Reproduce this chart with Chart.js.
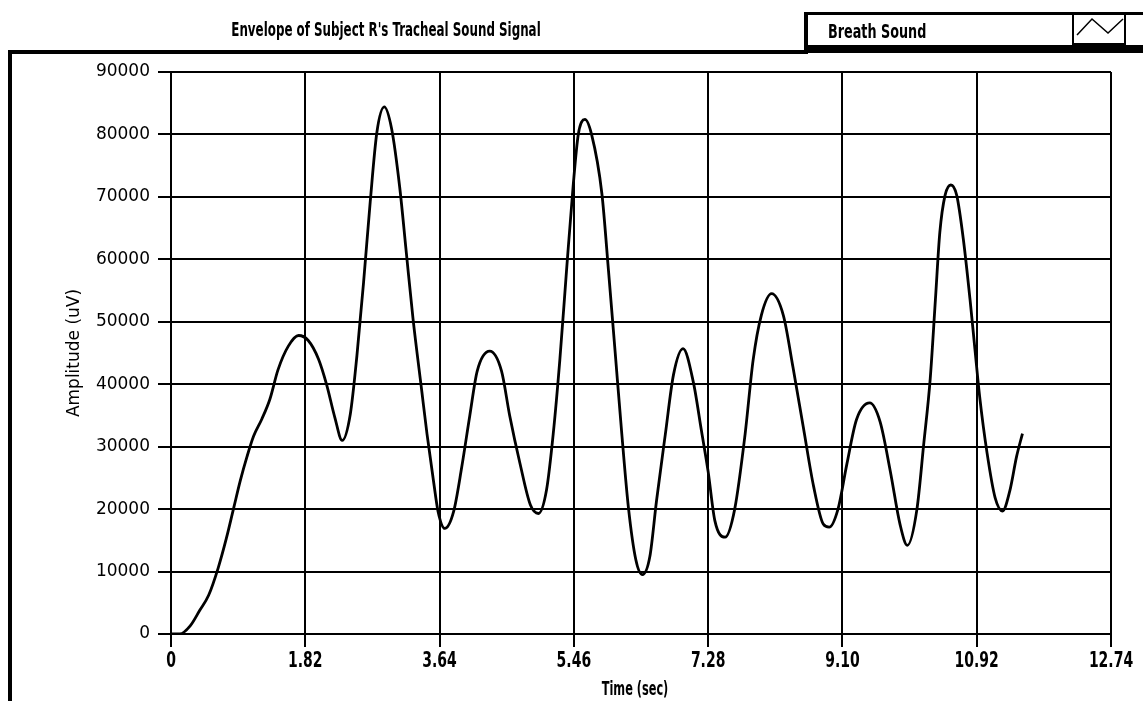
<!DOCTYPE html>
<html>
<head>
<meta charset="utf-8">
<title>Envelope of Subject R's Tracheal Sound Signal</title>
<script src="https://cdn.jsdelivr.net/npm/chart.js@4.4.1/dist/chart.umd.min.js"></script>
<style>
  html, body { margin: 0; padding: 0; background: #fff; }
  #wrap { width: 1143px; height: 701px; }
</style>
</head>
<body>
<div id="wrap"><canvas id="envChart" width="1143" height="701"></canvas></div>
<script>
// envelope of the tracheal sound, sampled along the trace
const timeSec = [
  0, 0.12, 0.26, 0.39, 0.51, 0.64, 0.75, 0.85, 0.94, 1.03, 1.12, 1.23, 1.34, 1.45, 1.59, 1.73,
  1.86, 2.00, 2.11, 2.22, 2.32, 2.43, 2.52, 2.61, 2.70, 2.79, 2.89, 2.99, 3.10, 3.19, 3.28,
  3.40, 3.47, 3.56, 3.62, 3.71, 3.83, 3.94, 4.05, 4.15, 4.32, 4.48, 4.59, 4.73, 4.87, 4.98,
  5.09, 5.18, 5.27, 5.36, 5.45, 5.52, 5.61, 5.70, 5.84, 5.93, 6.02, 6.11, 6.20, 6.30, 6.39,
  6.49, 6.58, 6.70, 6.81, 6.94, 7.08, 7.19, 7.28, 7.37, 7.51, 7.64, 7.78, 7.89, 8.00, 8.14,
  8.30, 8.43, 8.57, 8.71, 8.84, 8.92, 9.04, 9.16, 9.29, 9.47, 9.61, 9.75, 9.88, 9.98, 10.11,
  10.20, 10.29, 10.36, 10.42, 10.49, 10.57, 10.65, 10.74, 10.83, 10.90, 10.96, 11.06, 11.17,
  11.27, 11.37, 11.46, 11.54
];
const amplitude = [
  0, 0, 1300, 3800, 6200, 10600, 15300, 20200, 24600, 28400, 31700, 34400, 37600, 42300, 46100, 47800,
  47000, 44000, 39900, 34700, 31000, 35200, 44600, 56300, 69200, 80300, 84400, 80900, 71500, 61000, 50500,
  38800, 32000, 24300, 19600, 16900, 19600, 26700, 35000, 42100, 45300, 42100, 35000, 27300, 20700, 19300,
  23100, 32000, 43900, 58100, 71700, 80000, 82400, 80000, 70500, 58100, 45100, 32000, 20200, 11900, 9500,
  12400, 21300, 32000, 41500, 45700, 40300, 32500, 26000, 18200, 15500, 20000, 31900, 43900, 51000, 54500,
  51000, 42700, 33100, 23600, 17600, 17100, 20000, 27200, 34300, 37000, 34000, 26000, 17600, 14200, 20000,
  30200, 40900, 53500, 64300, 70200, 71900, 70200, 63100, 53500, 45100, 38000, 29000, 21800,
  19700, 23000, 28400, 32100
];

const xTicks = [0, 1.82, 3.64, 5.46, 7.28, 9.10, 10.92, 12.74];
const xTickLabels = ['0', '1.82', '3.64', '5.46', '7.28', '9.10', '10.92', '12.74'];
const yTicks = [0, 10000, 20000, 30000, 40000, 50000, 60000, 70000, 80000, 90000];

const chartTitle = "Envelope of Subject R's Tracheal Sound Signal";
const seriesName = 'Breath Sound';
const xTitle = 'Time (sec)';
const yTitle = 'Amplitude (uV)';

const NARROW = '"DejaVu Sans Condensed", "Liberation Sans Narrow", sans-serif';
const PLAIN = '"DejaVu Sans", sans-serif';

// tall squeezed text, like the panel's bitmap font
function narrowText(ctx, text, x, y, size, squeeze, align) {
  ctx.save();
  ctx.font = 'bold ' + size + 'px ' + NARROW;
  ctx.fillStyle = '#000';
  ctx.textBaseline = 'middle';
  ctx.textAlign = align;
  ctx.translate(x, y);
  ctx.scale(squeeze, 1);
  ctx.fillText(text, 0, 0);
  ctx.restore();
}

// outer panel frame, title, legend tab and the time axis text
const panelFrame = {
  id: 'panelFrame',
  afterDraw(chart) {
    const ctx = chart.ctx;
    ctx.save();
    ctx.fillStyle = '#000';
    ctx.fillRect(8, 50, 4, 651);
    ctx.fillRect(8, 50, 800, 4);
    // legend tab
    ctx.fillRect(804, 12, 4, 42);
    ctx.fillRect(804, 12, 339, 3);
    ctx.fillRect(804, 45, 339, 8);
    ctx.lineWidth = 2;
    ctx.strokeStyle = '#000';
    ctx.strokeRect(1073, 14, 52, 30);
    ctx.lineWidth = 1.5;
    ctx.beginPath();
    ctx.moveTo(1077, 35);
    ctx.lineTo(1092, 19);
    ctx.lineTo(1108, 33);
    ctx.lineTo(1123, 19);
    ctx.stroke();
    narrowText(ctx, seriesName, 828, 33, 20, 0.71, 'left');
    narrowText(ctx, chartTitle, 386, 31, 20, 0.66, 'center');

    // time axis labels under the tick marks
    const xs = chart.scales.x;
    xTicks.forEach((v, i) => {
      narrowText(ctx, xTickLabels[i], xs.getPixelForValue(v), 662, 21, 0.74, 'center');
    });
    narrowText(ctx, xTitle, 635, 690, 20, 0.63, 'center');
    ctx.restore();
  }
};

const ctx = document.getElementById('envChart').getContext('2d');
new Chart(ctx, {
  type: 'line',
  data: {
    datasets: [{
      label: seriesName,
      data: timeSec.map((t, i) => ({ x: t, y: amplitude[i] })),
      borderColor: '#000',
      borderWidth: 2.8,
      pointRadius: 0,
      fill: false,
      cubicInterpolationMode: 'monotone'
    }]
  },
  options: {
    responsive: false,
    animation: false,
    layout: { padding: { left: 10, right: 32, top: 72, bottom: 0 } },
    plugins: {
      legend: { display: false },
      tooltip: { enabled: false }
    },
    scales: {
      x: {
        type: 'linear',
        min: 0,
        max: 12.74,
        afterBuildTicks: s => { s.ticks = xTicks.map(v => ({ value: v })); },
        afterFit: s => { s.height = 67; },
        ticks: { display: false },
        grid: { color: '#000', lineWidth: 2, tickLength: 13, tickColor: '#000' },
        border: { color: '#000', width: 2 }
      },
      y: {
        min: 0,
        max: 90000,
        afterBuildTicks: s => { s.ticks = yTicks.map(v => ({ value: v })); },
        afterFit: s => { s.width = 161; },
        ticks: {
          padding: 8,
          color: '#000',
          font: { family: PLAIN, size: 17 },
          callback: v => String(v)
        },
        grid: { color: '#000', lineWidth: 2, tickLength: 13, tickColor: '#000' },
        border: { color: '#000', width: 2 },
        title: {
          display: true,
          text: yTitle,
          color: '#000',
          font: { family: PLAIN, size: 17 },
          padding: { top: 54, bottom: 0 }
        }
      }
    }
  },
  plugins: [panelFrame]
});
</script>
</body>
</html>
